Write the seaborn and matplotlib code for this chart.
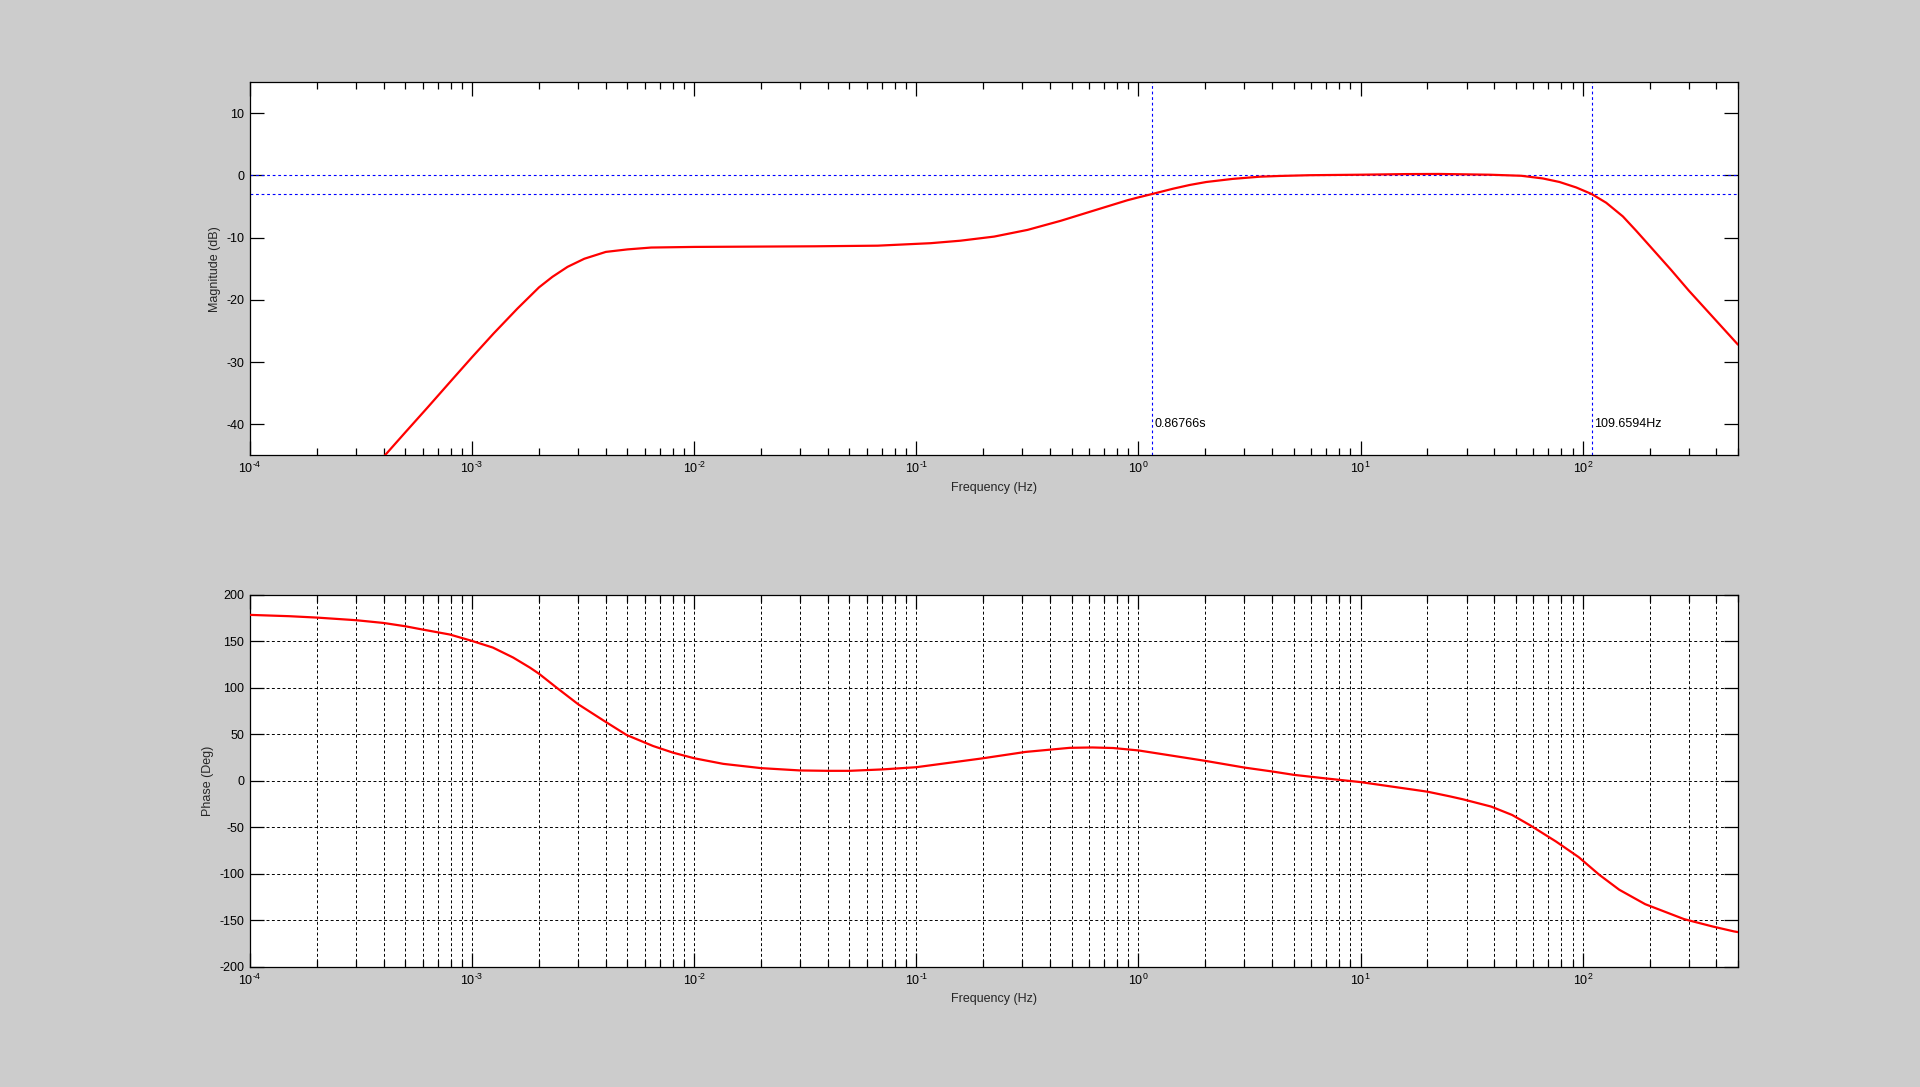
import numpy as np
import pandas as pd
import matplotlib
matplotlib.use("Agg")
import matplotlib.pyplot as plt
import matplotlib.ticker as mticker
import seaborn as sns

# ---------------- data ----------------
mag_freq = [4.0e-4, 5e-4, 6.3e-4, 8e-4, 1e-3, 1.25e-3, 1.6e-3, 2e-3, 2.3e-3, 2.69e-3,
            3.2e-3, 4e-3, 5e-3, 6.4e-3, 1e-2, 1.9e-2, 3.5e-2, 6.7e-2, 0.116, 0.158,
            0.224, 0.317, 0.447, 0.631, 0.892, 1.01, 1.1525, 1.43, 1.70, 2.02,
            2.66, 3.51, 4.32, 5.9, 10.0, 16.0, 22.6, 38.1, 52.9, 66.1,
            78.6, 93.5, 109.66, 127.5, 151.6, 174.0, 199.8, 250.0, 300.0, 400.0,
            500.0]
mag_db = [-45.2, -41.3, -37.3, -33.1, -29.2, -25.4, -21.4, -18.0, -16.3, -14.7,
          -13.4, -12.3, -11.9, -11.6, -11.5, -11.45, -11.4, -11.3, -10.9, -10.5,
          -9.84, -8.76, -7.3, -5.65, -4.0, -3.5, -3.0, -2.15, -1.55, -1.07,
          -0.57, -0.22, -0.1, 0.02, 0.1, 0.2, 0.22, 0.1, -0.07, -0.5,
          -1.07, -1.95, -3.0, -4.4, -6.6, -8.9, -11.3, -15.2, -18.5, -23.4,
          -27.2]

ph_freq = [1e-4, 1.5e-4, 2e-4, 3e-4, 4e-4, 5e-4, 5.82e-4, 7.94e-4, 1e-3, 1.24e-3,
           1.53e-3, 1.82e-3, 2.0e-3, 2.4e-3, 3.0e-3, 3.89e-3, 4.96e-3, 6.52e-3, 8.03e-3, 1e-2,
           1.35e-2, 2e-2, 3e-2, 4e-2, 5e-2, 7e-2, 0.1, 0.197, 0.31, 0.49,
           0.62, 0.77, 1.0, 1.38, 2.0, 3.0, 4.0, 5.0, 7.0, 10.0,
           20.0, 25.2, 28.9, 38.7, 48.1, 57.6, 75.9, 95.9, 118.8, 146.0,
           191.0, 286.0, 383.0, 480.0, 500.0]
ph_deg = [178.2, 176.8, 175.3, 172.5, 169.5, 166.0, 163.0, 157.1, 150.2, 143.1,
          132.4, 121.6, 115.0, 100.1, 82.3, 65.0, 49.2, 37.4, 30.2, 24.2,
          18.2, 13.6, 11.1, 10.7, 10.7, 12.2, 14.6, 24.0, 31.0, 35.4,
          35.8, 35.2, 32.6, 27.4, 21.4, 14.2, 10.0, 6.4, 2.5, -1.4,
          -11.7, -16.7, -19.9, -27.7, -36.7, -47.4, -65.3, -82.0, -101.0, -117.0,
          -132.5, -148.6, -156.4, -161.8, -162.5]

ref_levels_db = [0, -3]
cutoff_freqs = [1 / 0.86766, 109.6594]
cutoff_labels = ["0.86766s", "109.6594Hz"]

mag_yticks = [-40, -30, -20, -10, 0, 10]
ph_yticks = [-200, -150, -100, -50, 0, 50, 100, 150, 200]

# ---------------- style ----------------
sns.set_style("ticks")
plt.rcParams.update({
    "font.family": ["Liberation Sans", "DejaVu Sans"],
    "font.size": 9,
    "axes.unicode_minus": False,
    "mathtext.fontset": "custom",
    "mathtext.rm": "Liberation Sans",
    "mathtext.it": "Liberation Sans",
    "mathtext.default": "regular",
    "xtick.direction": "in",
    "ytick.direction": "in",
    "xtick.color": "black",
    "ytick.color": "black",
    "axes.edgecolor": "black",
    "axes.linewidth": 0.9,
})

fig = plt.figure(figsize=(19.2, 10.87), dpi=100, facecolor="#cccccc")
ax1 = fig.add_axes([0.1302, 0.581, 0.7750, 0.3436])
ax2 = fig.add_axes([0.1302, 0.1104, 0.7750, 0.3426])

mag_df = pd.DataFrame({"freq": mag_freq, "db": mag_db})
ph_df = pd.DataFrame({"freq": ph_freq, "deg": ph_deg})


def pow_label(v, pos):
    if v <= 0:
        return ""
    e = int(round(np.log10(v)))
    return r"$10^{\text{%d}}$" % e


def style_axes(ax, yticks, ylim):
    ax.set_facecolor("white")
    ax.set_xscale("log")
    ax.set_xlim(1e-4, 500)
    ax.set_ylim(*ylim)
    ax.set_yticks(yticks)
    ax.xaxis.set_major_locator(mticker.LogLocator(base=10, numticks=20))
    ax.xaxis.set_major_formatter(mticker.FuncFormatter(pow_label))
    ax.xaxis.set_minor_locator(mticker.LogLocator(base=10, subs=np.arange(2, 10), numticks=100))
    ax.xaxis.set_minor_formatter(mticker.NullFormatter())
    ax.tick_params(which="major", length=10, width=0.9, top=True, right=True,
                   labelsize=9, pad=4)
    ax.tick_params(which="minor", length=5, width=0.9, top=True, right=True)
    for s in ax.spines.values():
        s.set_visible(True)
        s.set_color("black")


# ---- magnitude ----
for lvl in ref_levels_db:
    ax1.axhline(lvl, color="#0000ff", lw=0.8, ls=(0, (2.5, 2.5)), zorder=1)
for f, lab in zip(cutoff_freqs, cutoff_labels):
    ax1.axvline(f, color="#0000ff", lw=0.8, ls=(0, (2.5, 2.5)), zorder=1)
    ax1.text(f * 1.025, -40, lab, fontsize=9, va="center", ha="left", color="black")
sns.lineplot(data=mag_df, x="freq", y="db", ax=ax1, color="red", lw=1.6,
             estimator=None, sort=False, zorder=3)
style_axes(ax1, mag_yticks, (-45, 15))
ax1.set_ylabel("Magnitude (dB)", fontsize=9, labelpad=4)
ax1.set_xlabel("Frequency (Hz)", fontsize=9, labelpad=4)

# ---- phase ----
sns.lineplot(data=ph_df, x="freq", y="deg", ax=ax2, color="red", lw=1.6,
             estimator=None, sort=False, zorder=3)
style_axes(ax2, ph_yticks, (-200, 200))
ax2.grid(True, which="both", axis="x", color="black", lw=0.7, ls=(0, (3, 2.5)))
ax2.grid(True, which="major", axis="y", color="black", lw=0.7, ls=(0, (3, 2.5)))
ax2.set_axisbelow(True)
ax2.set_ylabel("Phase (Deg)", fontsize=9, labelpad=4)
ax2.set_xlabel("Frequency (Hz)", fontsize=9, labelpad=4)

fig.savefig("out.png", dpi=100, facecolor=fig.get_facecolor())
